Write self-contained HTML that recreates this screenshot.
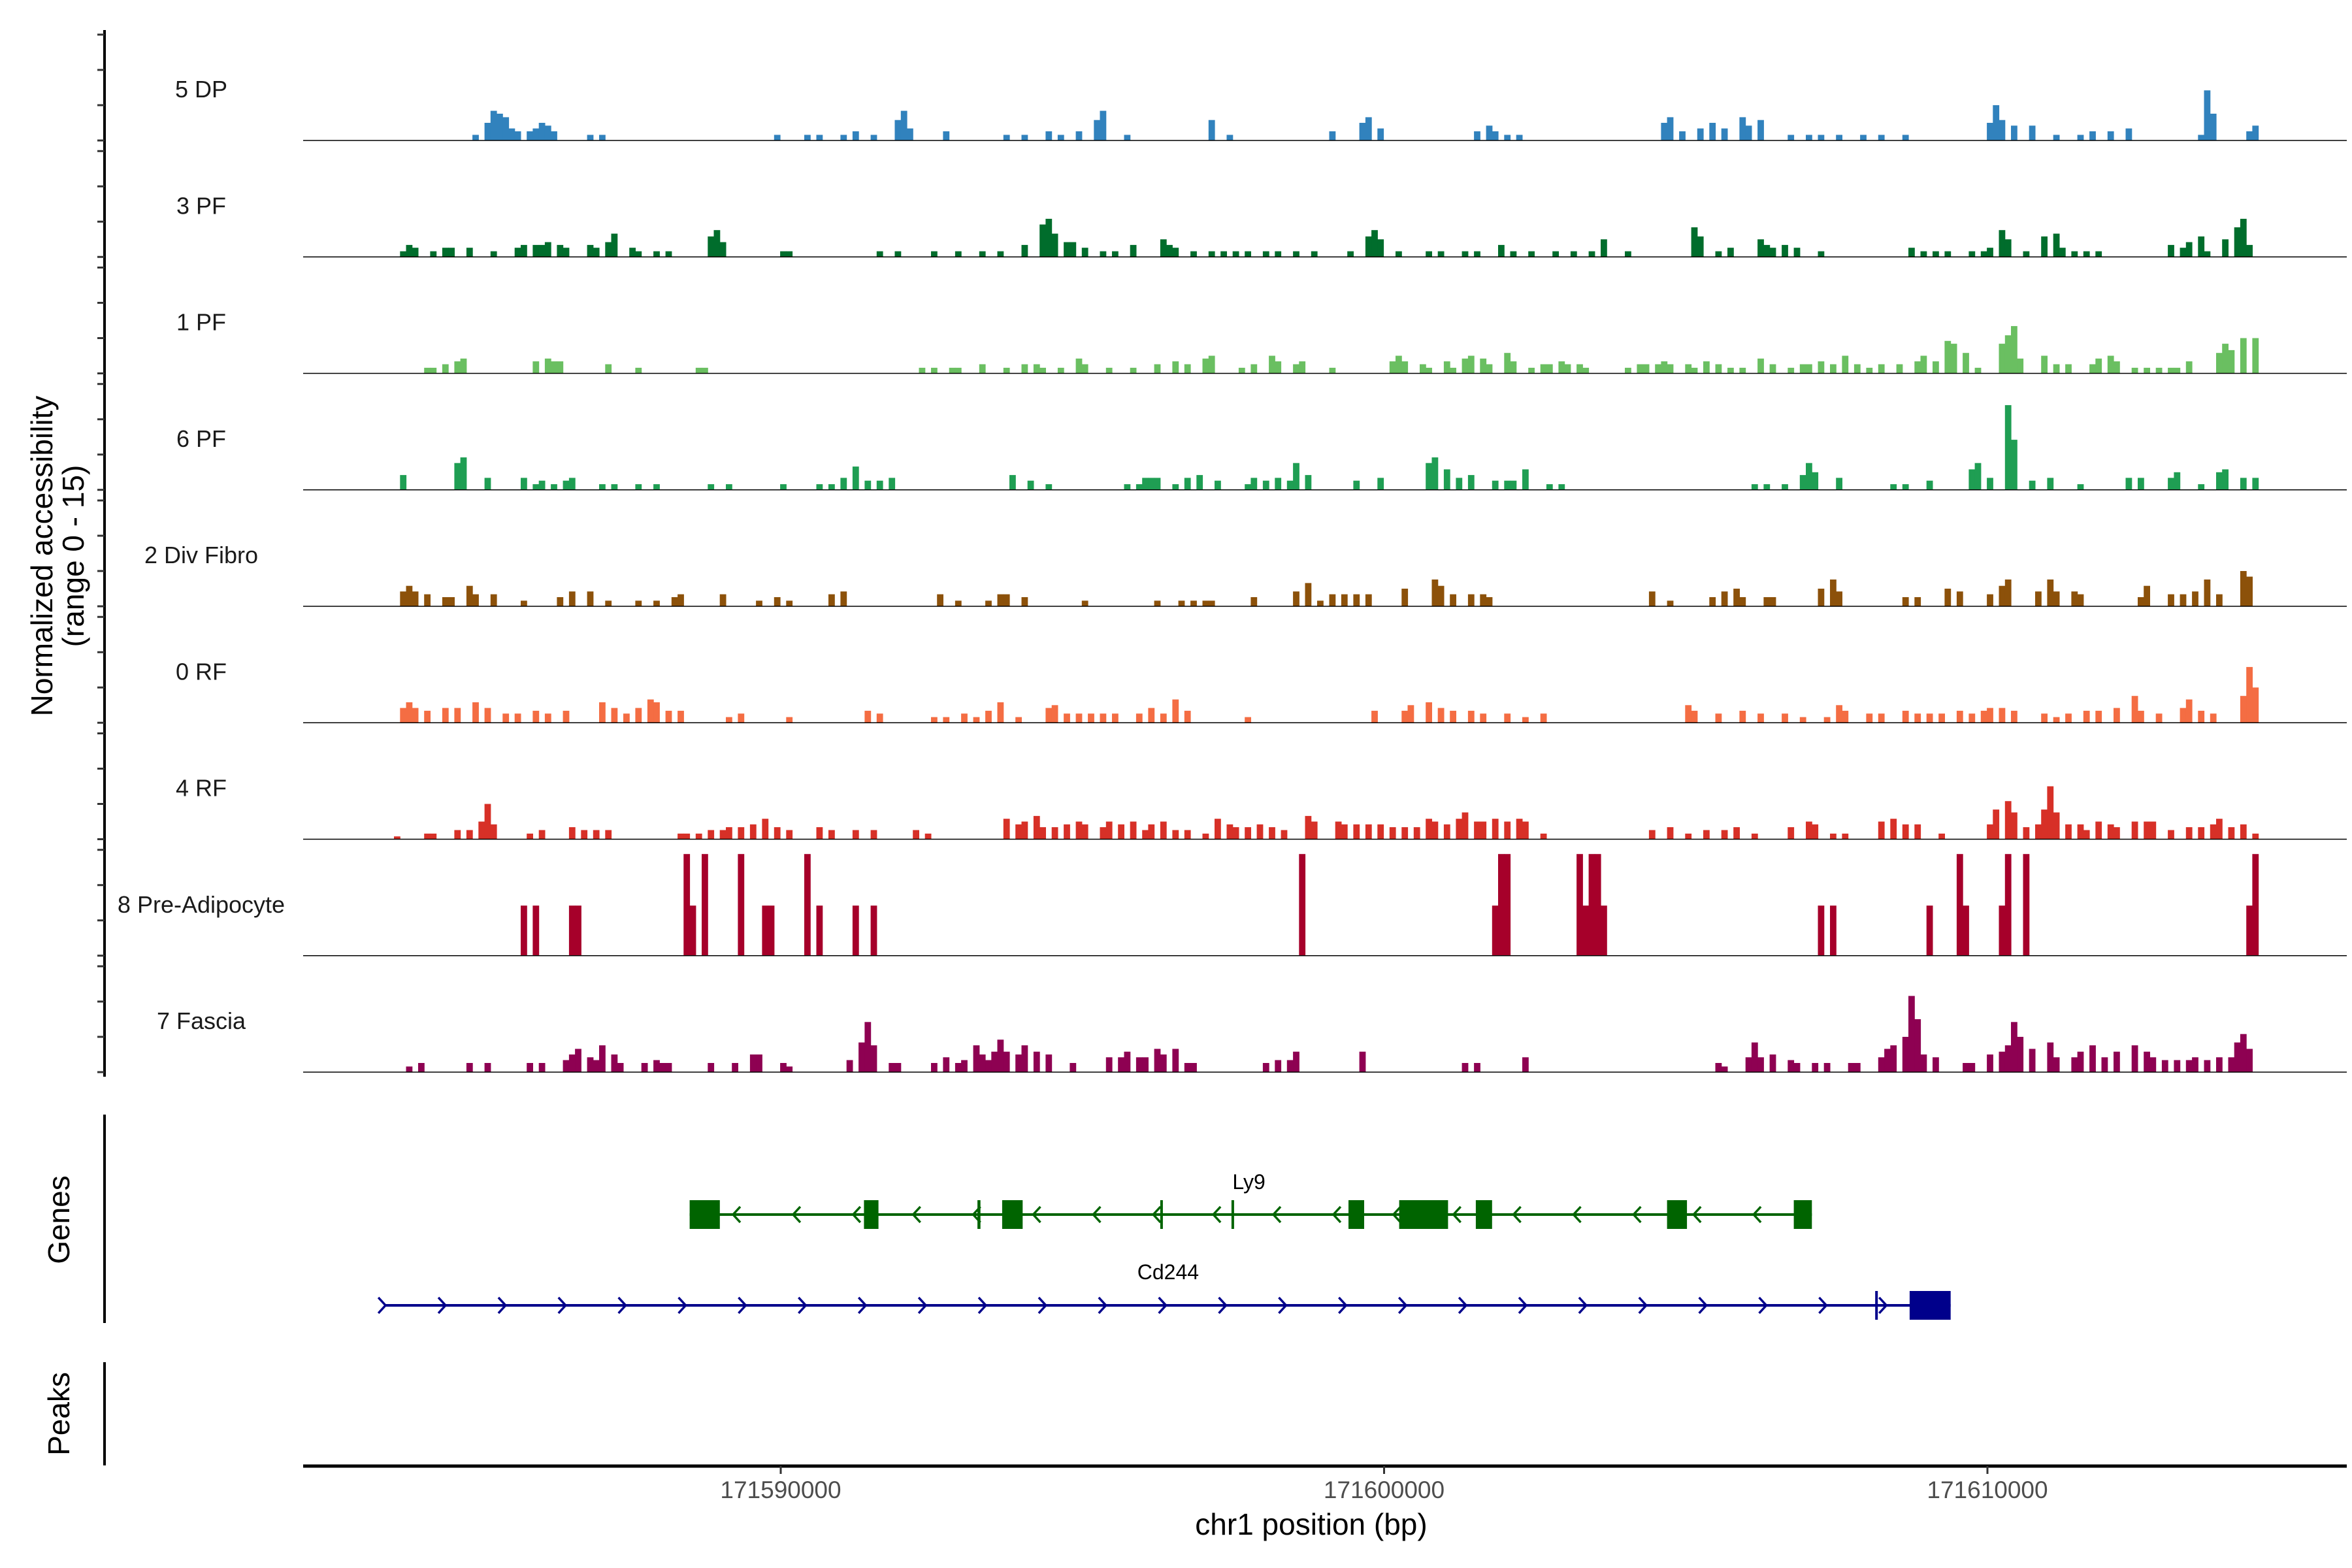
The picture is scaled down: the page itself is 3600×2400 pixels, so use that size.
<!DOCTYPE html>
<html><head><meta charset="utf-8"><title>Coverage plot</title>
<style>html,body{margin:0;padding:0;background:#fff}svg{display:block}text{font-family:"Liberation Sans",Arial,sans-serif}</style>
</head><body>
<svg id="plot" xmlns="http://www.w3.org/2000/svg" width="3600" height="2400" viewBox="0 0 3600 2400">
<g id="tracks"></g>
<g id="genes"></g>
<g id="axes"></g>
<text transform="translate(80,851) rotate(-90)" text-anchor="middle" font-size="46">Normalized accessibility</text>
<text transform="translate(128,851) rotate(-90)" text-anchor="middle" font-size="46">(range 0 - 15)</text>
<text transform="translate(106,1867) rotate(-90)" text-anchor="middle" font-size="46">Genes</text>
<text transform="translate(106,2164) rotate(-90)" text-anchor="middle" font-size="46">Peaks</text>
<text x="2007" y="2349" text-anchor="middle" font-size="46">chr1 position (bp)</text>
</svg>
<script>
// ---- data ----
const regionStartKb = 171582.09;
const regionEndKb = 171616.0;
const binSizeKb = 0.1;
const trackNames = ["5 DP","3 PF","1 PF","6 PF","2 Div Fibro","0 RF","4 RF","8 Pre-Adipocyte","7 Fascia"];
const trackColors = ["#3182bd","#006d2c","#6abf61","#1f9e53","#8c510a","#f46d43","#d73027","#a6002a","#8e0152"];
const yTicks = [0,5,10,15];
const xTicksBp = [171590000,171600000,171610000];
const xTickLabels = ["171590000","171600000","171610000"];

const cov5DP = [[28,0.8],[30,2.5],[31,4.2],[32,3.8],[33,3.3],[34,1.7],[35,1.3],[37,1.3],[38,1.7],[39,2.5],[40,2.1],[41,1.3],[47,0.8],[49,0.8],[78,0.8],[83,0.8],[85,0.8],[89,0.8],[91,1.3],[94,0.8],[98,2.9],[99,4.2],[100,1.7],[106,1.3],[116,0.8],[119,0.8],[123,1.3],[125,0.8],[128,1.3],[131,2.9],[132,4.2],[136,0.8],[150,2.9],[153,0.8],[170,1.3],[175,2.5],[176,3.3],[178,1.7],[194,1.3],[196,2.1],[197,1.3],[199,0.8],[201,0.8],[225,2.5],[226,3.3],[228,1.3],[231,1.7],[233,2.5],[235,1.7],[238,3.3],[239,2.1],[241,2.9],[246,0.8],[249,0.8],[251,0.8],[254,0.8],[258,0.8],[261,0.8],[265,0.8],[279,2.5],[280,5],[281,2.9],[283,2.1],[286,2.1],[290,0.8],[294,0.8],[296,1.3],[299,1.3],[302,1.7],[314,0.8],[315,7.1],[316,3.8],[322,1.3],[323,2.1]];
const cov3PF = [[16,0.8],[17,1.7],[18,1.3],[21,0.8],[23,1.3],[24,1.3],[27,1.3],[31,0.8],[35,1.3],[36,1.7],[38,1.7],[39,1.7],[40,2.1],[42,1.7],[43,1.3],[47,1.7],[48,1.3],[50,2.1],[51,3.3],[54,1.3],[55,0.8],[58,0.8],[60,0.8],[67,2.9],[68,3.8],[69,2.1],[79,0.8],[80,0.8],[95,0.8],[98,0.8],[104,0.8],[108,0.8],[112,0.8],[115,0.8],[119,1.7],[122,4.6],[123,5.4],[124,3.3],[126,2.1],[127,2.1],[129,1.3],[132,0.8],[134,0.8],[137,1.7],[142,2.5],[143,1.7],[144,1.3],[147,0.8],[150,0.8],[152,0.8],[154,0.8],[156,0.8],[159,0.8],[161,0.8],[164,0.8],[167,0.8],[173,0.8],[176,2.9],[177,3.8],[178,2.5],[181,0.8],[186,0.8],[188,0.8],[192,0.8],[194,0.8],[198,1.7],[200,0.8],[203,0.8],[207,0.8],[210,0.8],[213,0.8],[215,2.5],[219,0.8],[230,4.2],[231,2.9],[234,0.8],[236,1.3],[241,2.5],[242,1.7],[243,1.3],[245,1.7],[247,1.3],[251,0.8],[266,1.3],[268,0.8],[270,0.8],[272,0.8],[276,0.8],[278,0.8],[279,1.3],[281,3.8],[282,2.5],[285,0.8],[288,2.9],[290,3.3],[291,1.3],[293,0.8],[295,0.8],[297,0.8],[309,1.7],[311,1.3],[312,2.1],[314,2.9],[315,0.8],[318,2.5],[320,4.2],[321,5.4],[322,1.7]];
const cov1PF = [[20,0.8],[21,0.8],[23,1.3],[25,1.7],[26,2.1],[38,1.7],[40,2.1],[41,1.7],[42,1.7],[50,1.3],[55,0.8],[65,0.8],[66,0.8],[102,0.8],[104,0.8],[107,0.8],[108,0.8],[112,1.3],[116,0.8],[119,1.3],[121,1.3],[122,0.8],[125,0.8],[128,2.1],[129,1.3],[133,0.8],[137,0.8],[141,1.3],[144,1.7],[146,1.3],[149,2.1],[150,2.5],[155,0.8],[157,1.3],[160,2.5],[161,1.7],[164,1.3],[165,1.7],[170,0.8],[180,1.7],[181,2.5],[182,1.7],[185,1.3],[186,0.8],[189,1.7],[190,0.8],[192,2.1],[193,2.5],[195,2.1],[196,1.3],[199,2.9],[200,1.7],[203,0.8],[205,1.3],[206,1.3],[208,1.7],[209,1.3],[211,1.3],[212,0.8],[219,0.8],[221,1.3],[222,1.3],[224,1.3],[225,1.7],[226,1.3],[229,1.3],[230,0.8],[232,1.7],[234,1.3],[236,0.8],[238,0.8],[241,2.1],[243,1.3],[246,0.8],[248,1.3],[249,1.3],[251,1.7],[253,1.3],[255,2.5],[257,1.3],[259,0.8],[261,1.3],[264,1.3],[267,1.7],[268,2.5],[270,1.7],[272,4.6],[273,4.2],[275,2.9],[277,0.8],[281,4.2],[282,5.4],[283,6.7],[284,2.1],[288,2.5],[290,1.3],[292,1.3],[296,1.3],[297,2.1],[299,2.5],[300,1.7],[303,0.8],[305,0.8],[307,0.8],[309,0.8],[310,0.8],[312,1.7],[317,2.9],[318,4.2],[319,3.3],[321,5],[323,5]];
const cov6PF = [[16,2.1],[25,3.8],[26,4.6],[30,1.7],[36,1.7],[38,0.8],[39,1.3],[41,0.8],[43,1.3],[44,1.7],[49,0.8],[51,0.8],[55,0.8],[58,0.8],[67,0.8],[70,0.8],[79,0.8],[85,0.8],[87,0.8],[89,1.7],[91,3.3],[93,1.3],[95,1.3],[97,1.7],[117,2.1],[120,1.3],[123,0.8],[136,0.8],[138,0.8],[139,1.7],[140,1.7],[141,1.7],[144,0.8],[146,1.7],[148,2.1],[151,1.3],[156,0.8],[157,1.7],[159,1.3],[161,1.7],[163,1.3],[164,3.8],[166,2.1],[174,1.3],[178,1.7],[186,3.8],[187,4.6],[189,2.9],[191,1.7],[193,2.1],[197,1.3],[199,1.3],[200,1.3],[202,2.9],[206,0.8],[208,0.8],[240,0.8],[242,0.8],[245,0.8],[248,2.1],[249,3.8],[250,2.5],[254,1.7],[263,0.8],[265,0.8],[269,1.3],[276,2.9],[277,3.8],[279,1.7],[282,12],[283,7.1],[286,1.3],[289,1.7],[294,0.8],[302,1.7],[304,1.7],[309,1.7],[310,2.5],[314,0.8],[317,2.5],[318,2.9],[321,1.7],[323,1.7]];
const cov2Div = [[16,2.1],[17,2.9],[18,2.1],[20,1.7],[23,1.3],[24,1.3],[27,2.9],[28,1.7],[31,1.7],[36,0.8],[42,1.3],[44,2.1],[47,2.1],[50,0.8],[55,0.8],[58,0.8],[61,1.3],[62,1.7],[69,1.7],[75,0.8],[78,1.3],[80,0.8],[87,1.7],[89,2.1],[105,1.7],[108,0.8],[113,0.8],[115,1.7],[116,1.7],[119,1.3],[129,0.8],[141,0.8],[145,0.8],[147,0.8],[149,0.8],[150,0.8],[157,1.3],[164,2.1],[166,3.3],[168,0.8],[170,1.7],[172,1.7],[174,1.7],[176,1.7],[182,2.5],[187,3.8],[188,2.9],[190,1.7],[193,1.7],[195,1.7],[196,1.3],[223,2.1],[226,0.8],[233,1.3],[235,2.1],[237,2.5],[238,1.3],[242,1.3],[243,1.3],[251,2.5],[253,3.8],[254,2.1],[265,1.3],[267,1.3],[272,2.5],[274,2.1],[279,1.7],[281,2.9],[282,3.8],[287,2.1],[289,3.8],[290,2.1],[293,2.1],[294,1.7],[304,1.3],[305,2.9],[309,1.7],[311,1.7],[313,2.1],[315,3.8],[317,1.7],[321,5],[322,4.2]];
const cov0RF = [[16,2.1],[17,2.9],[18,2.1],[20,1.7],[23,2.1],[25,2.1],[28,2.9],[30,2.1],[33,1.3],[35,1.3],[38,1.7],[40,1.3],[43,1.7],[49,2.9],[51,2.1],[53,1.3],[55,2.1],[57,3.3],[58,2.9],[60,1.7],[62,1.7],[70,0.8],[72,1.3],[80,0.8],[93,1.7],[95,1.3],[104,0.8],[106,0.8],[109,1.3],[111,0.8],[113,1.7],[115,2.9],[118,0.8],[123,2.1],[124,2.5],[126,1.3],[128,1.3],[130,1.3],[132,1.3],[134,1.3],[138,1.3],[140,2.1],[142,1.3],[144,3.3],[146,1.7],[156,0.8],[177,1.7],[182,1.7],[183,2.5],[186,2.9],[188,2.1],[190,1.7],[193,1.7],[195,1.3],[199,1.3],[202,0.8],[205,1.3],[229,2.5],[230,1.7],[234,1.3],[238,1.7],[241,1.3],[245,1.3],[248,0.8],[252,0.8],[254,2.5],[255,1.7],[259,1.3],[261,1.3],[265,1.7],[267,1.3],[269,1.3],[271,1.3],[274,1.7],[276,1.3],[278,1.7],[279,2.1],[281,2.1],[283,1.7],[288,1.3],[290,0.8],[292,1.3],[295,1.7],[297,1.7],[300,2.1],[303,3.8],[304,1.7],[307,1.3],[311,2.1],[312,3.3],[314,1.7],[316,1.3],[321,3.8],[322,7.9],[323,5]];
const cov4RF = [[15,0.4],[20,0.8],[21,0.8],[25,1.3],[27,1.3],[29,2.5],[30,5],[31,2.1],[37,0.8],[39,1.3],[44,1.7],[46,1.3],[48,1.3],[50,1.3],[62,0.8],[63,0.8],[65,0.8],[67,1.3],[69,1.3],[70,1.7],[72,1.7],[74,2.1],[76,2.9],[78,1.7],[80,1.3],[85,1.7],[87,1.3],[91,1.3],[94,1.3],[101,1.3],[103,0.8],[116,2.9],[118,2.1],[119,2.5],[121,3.3],[122,1.7],[124,1.7],[126,2.1],[128,2.5],[129,2.1],[132,1.7],[133,2.5],[135,2.1],[137,2.5],[139,1.3],[140,2.1],[142,2.5],[144,1.3],[146,1.3],[149,0.8],[151,2.9],[153,2.1],[154,1.7],[156,1.7],[158,2.1],[160,1.7],[162,1.3],[166,3.3],[167,2.5],[171,2.5],[172,2.1],[174,2.1],[176,2.1],[178,2.1],[180,1.7],[182,1.7],[184,1.7],[186,2.9],[187,2.5],[189,2.1],[191,2.9],[192,3.8],[194,2.5],[195,2.5],[197,2.9],[199,2.5],[201,2.9],[202,2.5],[205,0.8],[223,1.3],[226,1.7],[229,0.8],[232,1.3],[235,1.3],[237,1.7],[240,0.8],[246,1.7],[249,2.5],[250,2.1],[253,0.8],[255,0.8],[261,2.5],[263,2.9],[265,2.1],[267,2.1],[271,0.8],[279,2.1],[280,4.2],[282,5.4],[283,3.8],[285,1.7],[287,2.1],[288,4.2],[289,7.5],[290,3.8],[292,2.1],[294,2.1],[295,1.3],[297,2.5],[299,2.1],[300,1.7],[303,2.5],[305,2.5],[306,2.5],[309,1.3],[312,1.7],[314,1.7],[316,2.1],[317,2.9],[319,1.7],[321,2.1],[323,0.8]];
const covPreAd = [[36,7.1],[38,7.1],[44,7.1],[45,7.1],[63,14.4],[64,7.1],[66,14.4],[72,14.4],[76,7.1],[77,7.1],[83,14.4],[85,7.1],[91,7.1],[94,7.1],[165,14.4],[197,7.1],[198,14.4],[199,14.4],[211,14.4],[212,7.1],[213,14.4],[214,14.4],[215,7.1],[251,7.1],[253,7.1],[269,7.1],[274,14.4],[275,7.1],[281,7.1],[282,14.4],[285,14.4],[322,7.1],[323,14.4]];
const covFascia = [[17,0.8],[19,1.3],[27,1.3],[30,1.3],[37,1.3],[39,1.3],[43,1.7],[44,2.5],[45,3.3],[47,2.1],[48,1.7],[49,3.8],[51,2.5],[52,1.3],[56,1.3],[58,1.7],[59,1.3],[60,1.3],[67,1.3],[71,1.3],[74,2.5],[75,2.5],[79,1.3],[80,0.8],[90,1.7],[92,4.2],[93,7.1],[94,3.8],[97,1.3],[98,1.3],[104,1.3],[106,2.1],[108,1.3],[109,1.7],[111,3.8],[112,2.5],[113,1.7],[114,2.9],[115,4.6],[116,2.9],[118,2.5],[119,3.8],[121,2.9],[123,2.5],[127,1.3],[133,2.1],[135,2.1],[136,2.9],[138,2.1],[139,2.1],[141,3.3],[142,2.5],[144,3.3],[146,1.3],[147,1.3],[159,1.3],[161,1.7],[163,1.7],[164,2.9],[175,2.9],[192,1.3],[194,1.3],[202,2.1],[234,1.3],[235,0.8],[239,2.1],[240,4.2],[241,2.1],[243,2.5],[246,1.7],[247,1.3],[250,1.3],[252,1.3],[256,1.3],[257,1.3],[261,2.1],[262,3.3],[263,3.8],[265,5],[266,10.8],[267,7.5],[268,2.5],[270,2.1],[275,1.3],[276,1.3],[279,2.5],[281,2.9],[282,3.8],[283,7.1],[284,5],[286,3.3],[289,4.2],[290,2.1],[293,2.1],[294,2.9],[296,3.8],[298,2.1],[300,2.9],[303,3.8],[305,2.9],[306,2.1],[308,1.7],[310,1.7],[312,1.7],[313,2.1],[315,1.7],[317,2.1],[319,2.1],[320,4.2],[321,5.4],[322,3.3]];
const coverage = [cov5DP,cov3PF,cov1PF,cov6PF,cov2Div,cov0RF,cov4RF,covPreAd,covFascia];

// genes (kb)
const ly9Span = [171588.49,171607.09];
const ly9Exons = [[171588.49,171588.99],[171591.38,171591.62],[171593.26,171593.31],[171593.67,171594.01],[171596.29,171596.33],[171597.47,171597.51],[171599.41,171599.67],[171600.25,171601.06],[171601.52,171601.79],[171604.69,171605.02],[171606.79,171607.09]];
const cd244Span = [171583.45,171609.39];
const cd244Exons = [[171608.14,171608.18],[171608.71,171609.39]];

// ---- scales ----
const X0 = 464, X1 = 3592;
const pxPerKb = 92.35;
function xKb(kb){ return 1195 + (kb - 171590) * pxPerKb; }
function xBp(bp){ return xKb(bp/1000); }
const baseline0 = 215, trackStep = 178.25, unitPx = 10.8;
function yVal(i, v){ return baseline0 + i*trackStep - v*unitPx; }

const NS = "http://www.w3.org/2000/svg";
function mk(tag, attrs, parent){ const e=document.createElementNS(NS,tag); for(const k in attrs) e.setAttribute(k, attrs[k]); parent.appendChild(e); return e; }

const tracksG = document.getElementById('tracks');
const axesG = document.getElementById('axes');
const genesG = document.getElementById('genes');

// left axis
const ax = mk('line',{x1:160,x2:160,y1:46,y2:1648,stroke:'#000','stroke-width':4},axesG);



trackNames.forEach((name,i)=>{
  const g = mk('g',{},tracksG);
  
  
  const base = yVal(i,0);
  coverage[i].forEach(([bin,val])=>{
    const kb = regionStartKb + bin*binSizeKb;
    const x = xKb(kb);
    const w = binSizeKb*pxPerKb + 0.6;
    const y = yVal(i,val);
    const r = mk('rect',{x:x.toFixed(1),y:y.toFixed(1),width:w.toFixed(1),height:(base-y).toFixed(1),fill:trackColors[i]},g);
    
    
  });
  const bl = mk('line',{x1:X0,x2:X1,y1:base,y2:base,stroke:'#000','stroke-width':1.6},g);
  
  
  const t = mk('text',{x:308,y:base-66,'text-anchor':'middle','font-size':36,fill:'#1a1a1a'},g);
  t.textContent = name;
  
  
  yTicks.forEach(v=>{
    const ty = yVal(i,v);
    const tk = mk('line',{x1:149,x2:160,y1:ty,y2:ty,stroke:'#333','stroke-width':3},axesG);
    
    
  });
});

// genes and peaks axis lines
const ga = mk('line',{x1:160,x2:160,y1:1706,y2:2025,stroke:'#000','stroke-width':4},axesG);


const pa = mk('line',{x1:160,x2:160,y1:2085,y2:2243,stroke:'#000','stroke-width':4},axesG);



// genes
function drawGene(nameStr, span, exons, yc, color, dir, labelKb, labelY){
  const g = mk('g',{},genesG);
  
  
  const ln = mk('line',{x1:xKb(span[0]),x2:xKb(span[1]),y1:yc,y2:yc,stroke:color,'stroke-width':4},g);
  
  
  for(let kb = span[0] + (dir<0?0.72:0.0); kb < span[1]-0.3; kb += 0.995){
    const x = xKb(kb);
    const p = mk('polyline',{points:`${x-dir*11},${yc-12} ${x},${yc} ${x-dir*11},${yc+12}`,fill:'none',stroke:color,'stroke-width':3.5},g);
    
    
  }
  exons.forEach(([a,b])=>{
    const x = xKb(a), w = Math.max(4,(b-a)*pxPerKb);
    const r = mk('rect',{x:x.toFixed(1),y:yc-22,width:w.toFixed(1),height:44,fill:color},g);
    
    
  });
  const t = mk('text',{x:xKb(labelKb),y:labelY,'text-anchor':'middle','font-size':32,fill:'#000'},g);
  t.textContent = nameStr;
  
  
}
drawGene('Ly9', ly9Span, ly9Exons, 1859, '#006400', -1, 171597.76, 1820);
drawGene('Cd244', cd244Span, cd244Exons, 1998, '#00008b', 1, 171596.42, 1958);

// x axis
const xa = mk('line',{x1:X0,x2:X1,y1:2244,y2:2244,stroke:'#000','stroke-width':5},axesG);


xTicksBp.forEach((bp,k)=>{
  const x = xBp(bp);
  const tk = mk('line',{x1:x,x2:x,y1:2244,y2:2256,stroke:'#333','stroke-width':3},axesG);
  
  
  const t = mk('text',{x:x,y:2293,'text-anchor':'middle','font-size':37,fill:'#4d4d4d'},axesG);
  t.textContent = xTickLabels[k];
  
  
});
</script>
</body></html>
